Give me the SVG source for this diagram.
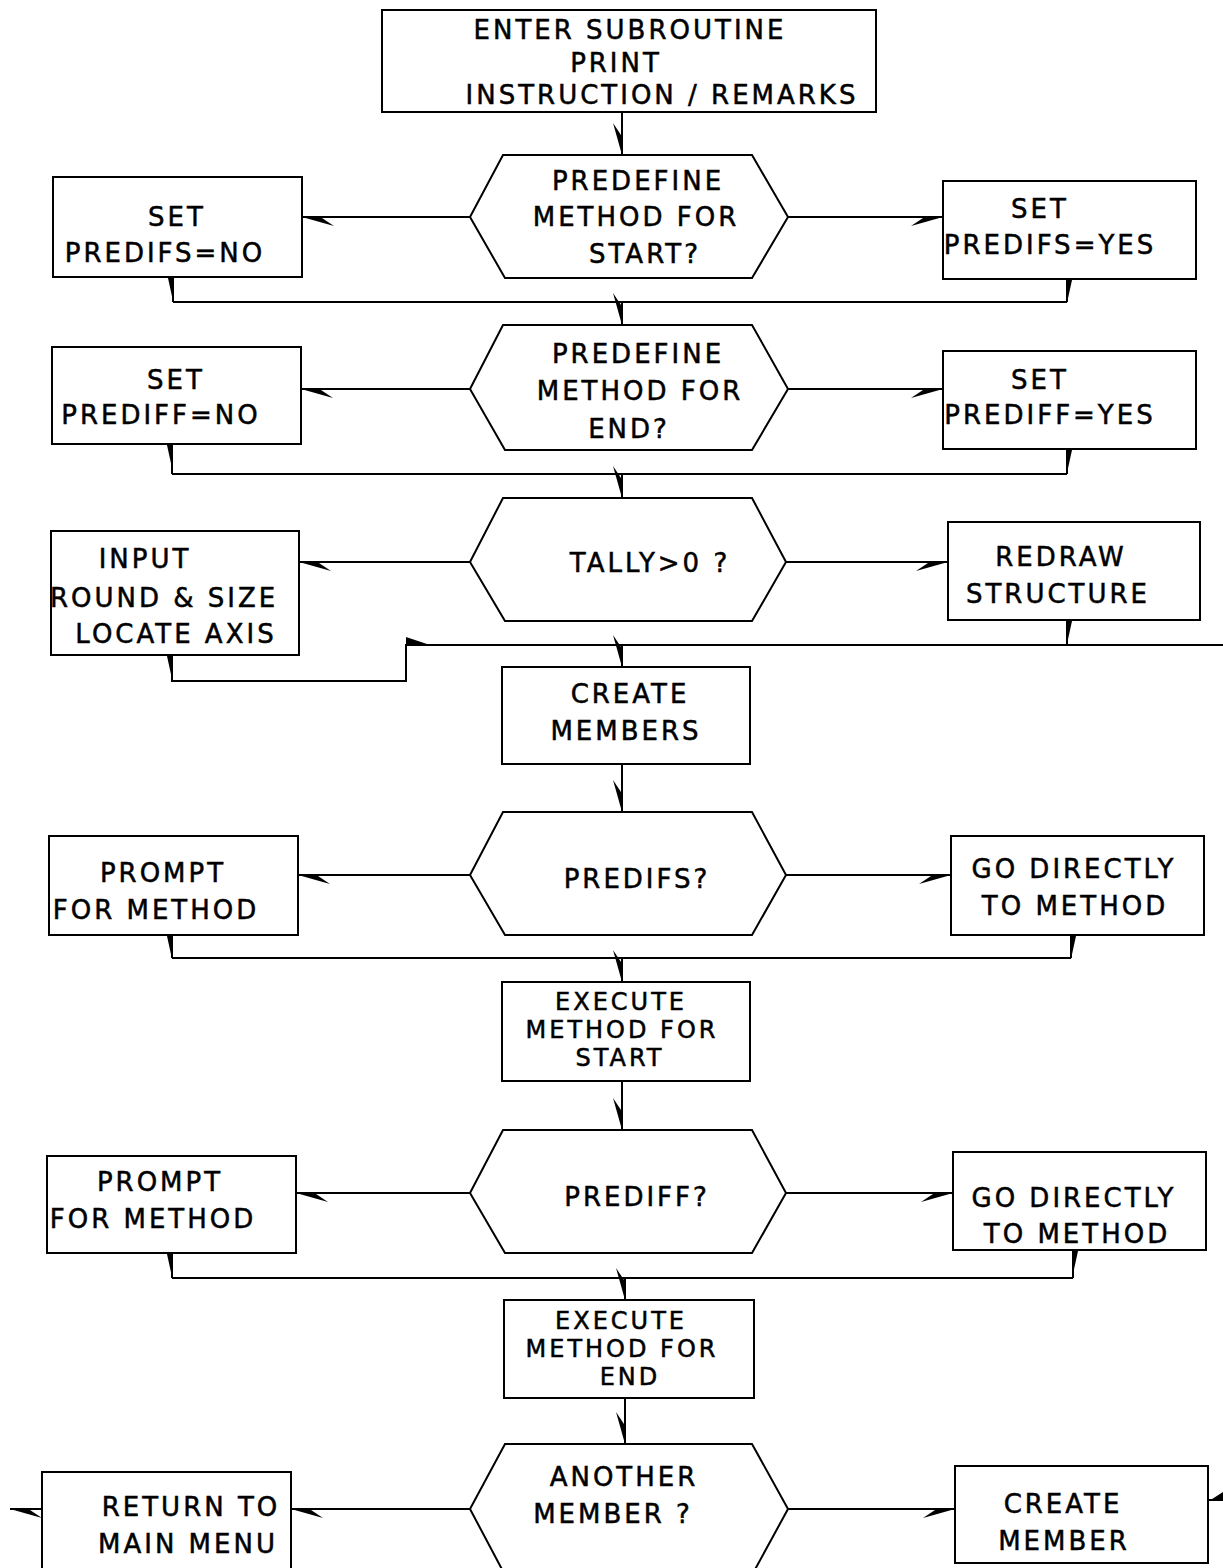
<svg xmlns="http://www.w3.org/2000/svg" width="1223" height="1568" viewBox="0 0 1223 1568">
<style>
.bx{fill:#fff;stroke:#000;stroke-width:2}
.hx{fill:#fff;stroke:#000;stroke-width:2;stroke-linejoin:miter}
.ln{fill:none;stroke:#000;stroke-width:2}
.t{font-family:"DejaVu Sans",sans-serif;font-size:26px;letter-spacing:3px;text-anchor:middle;fill:#000;stroke:#000;stroke-width:0.5}
.s{font-size:24px}
.w{fill:#000}
</style>
<defs>
<marker id="hb" markerUnits="userSpaceOnUse" markerWidth="40" markerHeight="24" viewBox="-40 -12 40 24" refX="0" refY="0" orient="auto" overflow="visible"><path d="M0,0 L-32,9 L-20,1 Z" fill="#000"/></marker>
<marker id="hbm" markerUnits="userSpaceOnUse" markerWidth="40" markerHeight="24" viewBox="-40 -12 40 24" refX="0" refY="0" orient="auto" overflow="visible"><path d="M0,0 L-32,-9 L-20,-1 Z" fill="#000"/></marker>
<marker id="tl" markerUnits="userSpaceOnUse" markerWidth="30" markerHeight="16" viewBox="0 -8 30 16" refX="0" refY="0" orient="auto" overflow="visible"><path d="M0,-1 L1,5 L24,0 Z" fill="#000"/></marker>
<marker id="tr" markerUnits="userSpaceOnUse" markerWidth="30" markerHeight="16" viewBox="0 -8 30 16" refX="0" refY="0" orient="auto" overflow="visible"><path d="M0,1 L1,-5 L24,0 Z" fill="#000"/></marker>
</defs>
<rect width="1223" height="1568" fill="#fff"/>
<g id="connectors">
<path class="ln" d="M622,112 V155" marker-end="url(#hb)"/>
<path class="ln" d="M470,217 H302" marker-end="url(#hbm)"/>
<path class="ln" d="M788,217 H943" marker-end="url(#hb)"/>
<path class="ln" d="M173,277 V302" marker-start="url(#tl)"/>
<path class="ln" d="M1067,279 V302" marker-start="url(#tr)"/>
<path class="ln" d="M173,302 H1067"/>
<path class="ln" d="M622,302 V325" marker-end="url(#hb)"/>
<path class="ln" d="M470,389 H301" marker-end="url(#hbm)"/>
<path class="ln" d="M788,389 H943" marker-end="url(#hb)"/>
<path class="ln" d="M172,444 V474" marker-start="url(#tl)"/>
<path class="ln" d="M1067,449 V474" marker-start="url(#tr)"/>
<path class="ln" d="M172,474 H1067"/>
<path class="ln" d="M622,474 V498" marker-end="url(#hb)"/>
<path class="ln" d="M470,562 H299" marker-end="url(#hbm)"/>
<path class="ln" d="M786,562 H948" marker-end="url(#hb)"/>
<path class="ln" d="M1067,620 V645" marker-start="url(#tr)"/>
<path class="ln" d="M172,655 V681 H406 V645 H1223" marker-start="url(#tl)"/>
<polygon class="w" points="406,637 406,646 433,646"/>
<path class="ln" d="M622,645 V667" marker-end="url(#hb)"/>
<path class="ln" d="M622,764 V812" marker-end="url(#hb)"/>
<path class="ln" d="M470,875 H298" marker-end="url(#hbm)"/>
<path class="ln" d="M786,875 H951" marker-end="url(#hb)"/>
<path class="ln" d="M172,935 V958" marker-start="url(#tl)"/>
<path class="ln" d="M1071,935 V958" marker-start="url(#tr)"/>
<path class="ln" d="M172,958 H1071"/>
<path class="ln" d="M622,958 V982" marker-end="url(#hb)"/>
<path class="ln" d="M622,1081 V1130" marker-end="url(#hb)"/>
<path class="ln" d="M470,1193 H296" marker-end="url(#hbm)"/>
<path class="ln" d="M786,1193 H953" marker-end="url(#hb)"/>
<path class="ln" d="M172,1253 V1278" marker-start="url(#tl)"/>
<path class="ln" d="M1073,1250 V1278" marker-start="url(#tr)"/>
<path class="ln" d="M172,1278 H1073"/>
<path class="ln" d="M625,1278 V1300" marker-end="url(#hb)"/>
<path class="ln" d="M625,1398 V1444" marker-end="url(#hb)"/>
<path class="ln" d="M470,1509 H291" marker-end="url(#hbm)"/>
<path class="ln" d="M42,1509 H10" marker-end="url(#hbm)"/>
<path class="ln" d="M788,1509 H955" marker-end="url(#hb)"/>
<path class="ln" d="M1208,1500 H1223"/>
<polygon class="w" points="1209,1501 1223,1492 1223,1501"/>
</g>
<g id="n-enter"><rect class="bx" x="382" y="10" width="494" height="102"/>
<text class="t" x="630" y="39">ENTER SUBROUTINE</text><text class="t" x="616" y="72">PRINT</text><text class="t" x="662" y="104">INSTRUCTION / REMARKS</text></g>
<g id="n-q1"><polygon class="hx" points="503,155 752,155 788,217 752,278 505,278 470,217"/>
<text class="t" x="638" y="190">PREDEFINE</text><text class="t" x="636" y="226">METHOD FOR</text><text class="t" x="645" y="263">START?</text></g>
<g id="n-setsno"><rect class="bx" x="53" y="177" width="249" height="100"/>
<text class="t" x="177" y="226">SET</text><text class="t" x="165" y="262">PREDIFS=NO</text></g>
<g id="n-setsyes"><rect class="bx" x="943" y="181" width="253" height="98"/>
<text class="t" x="1040" y="218">SET</text><text class="t" x="1050" y="254">PREDIFS=YES</text></g>
<g id="n-q2"><polygon class="hx" points="503,325 752,325 788,389 752,450 505,450 470,389"/>
<text class="t" x="638" y="363">PREDEFINE</text><text class="t" x="640" y="400">METHOD FOR</text><text class="t" x="629" y="438">END?</text></g>
<g id="n-setfno"><rect class="bx" x="52" y="347" width="249" height="97"/>
<text class="t" x="176" y="389">SET</text><text class="t" x="161" y="424">PREDIFF=NO</text></g>
<g id="n-setfyes"><rect class="bx" x="943" y="351" width="253" height="98"/>
<text class="t" x="1040" y="389">SET</text><text class="t" x="1050" y="424">PREDIFF=YES</text></g>
<g id="n-q3"><polygon class="hx" points="503,498 752,498 786,562 752,621 505,621 470,562"/>
<text class="t" x="650" y="572">TALLY&gt;0 ?</text></g>
<g id="n-input"><rect class="bx" x="51" y="531" width="248" height="124"/>
<text class="t" x="145" y="568">INPUT</text><text class="t" x="164" y="607">ROUND &amp; SIZE</text><text class="t" x="176" y="643">LOCATE AXIS</text></g>
<g id="n-redraw"><rect class="bx" x="948" y="522" width="252" height="98"/>
<text class="t" x="1061" y="566">REDRAW</text><text class="t" x="1058" y="603">STRUCTURE</text></g>
<g id="n-create"><rect class="bx" x="502" y="667" width="248" height="97"/>
<text class="t" x="630" y="703">CREATE</text><text class="t" x="626" y="740">MEMBERS</text></g>
<g id="n-q4"><polygon class="hx" points="503,812 752,812 786,875 752,935 505,935 470,875"/>
<text class="t" x="637" y="888">PREDIFS?</text></g>
<g id="n-prompt1"><rect class="bx" x="49" y="836" width="249" height="99"/>
<text class="t" x="163" y="882">PROMPT</text><text class="t" x="156" y="919">FOR METHOD</text></g>
<g id="n-go1"><rect class="bx" x="951" y="836" width="253" height="99"/>
<text class="t" x="1074" y="878">GO DIRECTLY</text><text class="t" x="1075" y="915">TO METHOD</text></g>
<g id="n-execstart"><rect class="bx" x="502" y="982" width="248" height="99"/>
<text class="t s" x="621" y="1010">EXECUTE</text><text class="t s" x="622" y="1038">METHOD FOR</text><text class="t s" x="620" y="1066">START</text></g>
<g id="n-q5"><polygon class="hx" points="503,1130 752,1130 786,1193 752,1253 505,1253 470,1193"/>
<text class="t" x="637" y="1206">PREDIFF?</text></g>
<g id="n-prompt2"><rect class="bx" x="47" y="1156" width="249" height="97"/>
<text class="t" x="160" y="1191">PROMPT</text><text class="t" x="153" y="1228">FOR METHOD</text></g>
<g id="n-go2"><rect class="bx" x="953" y="1152" width="253" height="98"/>
<text class="t" x="1074" y="1207">GO DIRECTLY</text><text class="t" x="1077" y="1243">TO METHOD</text></g>
<g id="n-execend"><rect class="bx" x="504" y="1300" width="250" height="98"/>
<text class="t s" x="621" y="1329">EXECUTE</text><text class="t s" x="622" y="1357">METHOD FOR</text><text class="t s" x="630" y="1385">END</text></g>
<g id="n-q6"><polygon class="hx" points="505,1444 752,1444 788,1509 752,1575 505,1575 470,1509"/>
<text class="t" x="624" y="1486">ANOTHER</text><text class="t" x="613" y="1523">MEMBER ?</text></g>
<g id="n-return"><rect class="bx" x="42" y="1472" width="249" height="104"/>
<text class="t" x="191" y="1516">RETURN TO</text><text class="t" x="188" y="1553">MAIN MENU</text></g>
<g id="n-createm"><rect class="bx" x="955" y="1466" width="253" height="97"/>
<text class="t" x="1063" y="1513">CREATE</text><text class="t" x="1064" y="1550">MEMBER</text></g>
</svg>
